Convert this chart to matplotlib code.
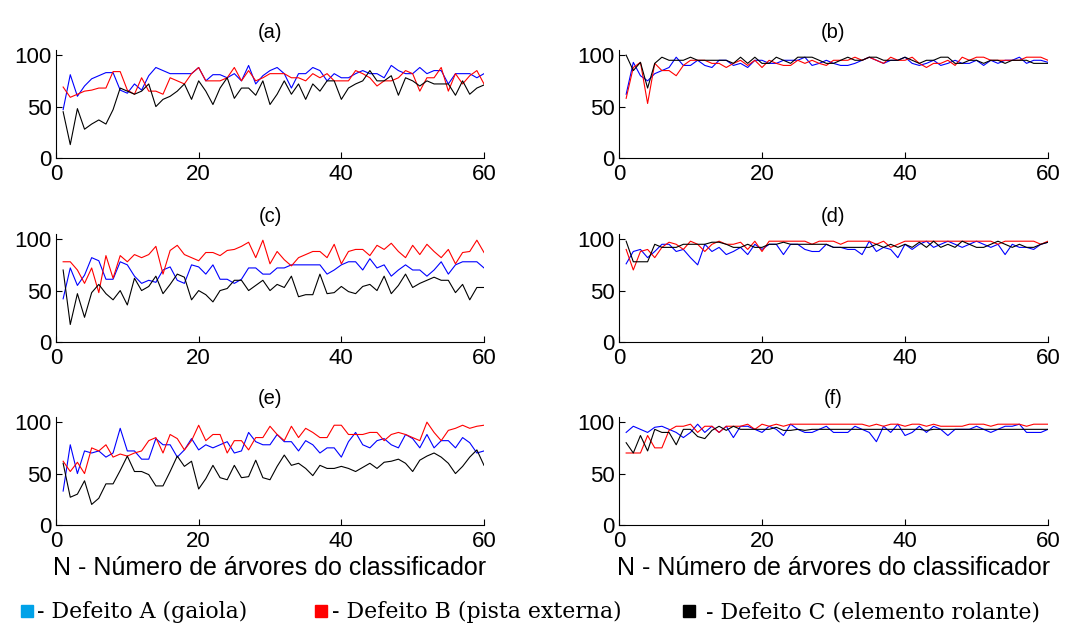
import numpy as np
import matplotlib
matplotlib.use('Agg')
import matplotlib.pyplot as plt
from matplotlib.patches import Rectangle

# numero de arvores do classificador
n_trees = np.arange(1, 61)

# (a)
a_blue = [47,81,60,70,77,80,83,83,66,63,72,66,80,88,85,82,82,82,82,88,75,81,81,78,82,75,90,72,80,85,
          88,82,68,82,82,88,85,75,82,78,78,82,85,82,82,78,90,85,82,82,88,82,85,85,72,82,82,82,78,82]
a_red = [69,59,62,65,66,68,68,84,84,66,62,78,65,65,62,78,75,72,82,88,75,75,75,78,88,75,85,75,78,82,
         82,82,78,78,75,82,78,82,75,75,75,85,82,78,70,75,75,78,85,82,65,78,78,88,65,82,72,80,85,72]
a_black = [45,13,48,28,33,37,33,47,68,65,62,65,72,50,57,60,65,72,57,75,65,52,68,78,58,68,68,61,75,52,
           62,75,62,72,57,72,65,75,75,57,68,72,75,85,75,75,80,61,78,75,70,75,72,72,72,61,75,62,68,71]

# (b)
b_blue = [62,93,80,75,82,85,88,98,90,90,95,90,88,95,95,90,92,88,95,95,92,92,95,95,95,98,90,92,95,92,
          90,90,92,95,98,95,92,95,95,98,92,90,92,95,90,92,95,92,92,95,90,95,92,95,95,98,92,95,95,93]
b_red = [58,88,93,53,92,85,85,80,90,95,95,95,92,92,88,92,95,90,95,88,95,92,90,90,95,92,95,92,90,95,
         95,95,98,95,98,95,92,98,95,95,98,92,88,92,92,95,90,98,95,98,98,95,95,95,95,95,98,98,98,95]
b_black = [100,85,93,68,92,98,95,95,95,98,95,95,95,95,95,92,98,92,98,92,92,98,95,92,98,98,98,95,92,92,
           95,98,95,95,98,98,95,95,95,98,95,92,95,95,98,98,92,92,95,95,92,95,95,92,95,95,95,92,92,92]

# (c)
c_blue = [42,72,55,65,82,79,61,61,78,75,64,57,60,58,70,73,60,57,75,73,66,75,61,61,57,61,72,72,66,66,
          72,72,75,75,75,75,75,66,70,75,78,78,70,81,72,75,64,70,75,70,70,64,70,78,66,75,78,78,78,72]
c_red = [78,78,70,57,72,48,84,62,84,78,85,82,85,93,66,89,94,85,82,79,87,87,84,89,90,93,97,82,99,76,
         88,80,74,82,85,88,88,82,95,76,88,90,90,84,94,90,96,88,82,94,85,95,88,82,90,76,87,88,99,87]
c_black = [70,17,47,24,48,56,47,41,50,36,62,50,54,64,47,56,66,63,41,50,46,39,50,52,60,60,50,55,60,50,
           56,53,64,44,46,46,66,47,48,54,49,47,54,56,50,64,47,55,66,53,57,60,63,60,60,48,56,41,53,53]

# (d)
d_blue = [76,88,90,82,88,95,95,88,90,82,75,95,88,92,85,88,92,85,95,90,95,95,85,95,95,90,88,88,95,92,
          92,90,90,85,98,88,92,90,82,95,90,95,98,92,95,98,95,92,95,98,95,92,95,85,95,92,92,90,95,97]
d_red = [90,70,88,90,82,92,97,95,90,98,95,88,95,98,95,95,97,90,98,88,98,98,98,98,98,98,95,98,98,98,
         95,98,98,98,98,95,98,92,95,98,98,98,98,98,98,98,98,98,98,98,98,98,95,98,98,98,98,98,95,98]
d_black = [98,78,78,78,95,92,92,92,95,95,95,95,97,97,95,92,92,95,92,92,95,95,97,95,95,95,95,95,95,92,
           92,92,92,92,92,95,92,95,92,95,92,97,92,98,92,95,92,98,95,92,92,95,98,95,92,95,92,92,95,97]

# (e)
e_blue = [33,78,50,72,70,72,66,70,94,72,72,64,64,84,78,78,66,73,84,73,78,75,78,81,70,72,90,81,78,78,
          88,81,81,72,82,78,70,75,75,66,81,90,78,75,82,84,78,75,88,84,75,88,75,82,82,75,85,80,70,72]
e_red = [62,52,61,50,75,72,78,66,69,67,70,72,82,85,70,88,84,73,82,97,82,88,88,70,82,82,73,85,85,96,
         88,82,96,85,94,90,85,85,97,97,88,88,88,90,90,82,88,90,88,85,82,100,90,82,92,94,97,94,96,97]
e_black = [60,27,30,43,20,26,40,40,53,67,52,52,49,38,38,52,67,57,62,35,45,58,46,44,58,46,47,63,46,44,
           57,68,58,60,55,48,58,55,55,57,55,52,56,60,55,61,62,64,60,52,63,67,70,66,60,50,57,66,73,58]

# (f)
f_blue = [90,96,93,90,95,96,93,90,85,90,98,90,96,90,96,85,96,96,93,90,96,93,87,98,93,90,90,93,96,90,
          90,90,96,93,90,81,96,90,98,87,90,96,90,96,93,87,93,93,93,96,93,90,93,96,96,98,90,90,90,93]
f_red = [70,70,70,87,75,75,92,96,96,98,90,96,96,90,96,96,96,98,93,98,96,98,96,98,98,98,98,98,98,98,
         98,98,98,98,96,98,96,98,98,96,98,98,96,98,96,96,96,96,98,98,98,96,98,98,98,98,96,98,98,98]
f_black = [80,70,87,72,93,90,90,78,93,93,86,84,92,96,92,96,93,93,93,93,93,95,92,92,93,92,93,93,93,93,
           93,93,93,93,93,93,93,93,93,93,93,93,92,93,93,93,93,93,93,93,93,93,93,93,93,93,93,93,93,93]

titles = ['(a)', '(b)', '(c)', '(d)', '(e)', '(f)']
panels = [(a_blue, a_red, a_black), (b_blue, b_red, b_black),
          (c_blue, c_red, c_black), (d_blue, d_red, d_black),
          (e_blue, e_red, e_black), (f_blue, f_red, f_black)]
legend_labels = ['- Defeito A (gaiola)', '- Defeito B (pista externa)', '- Defeito C (elemento rolante)']
xlabel = 'N - Número de árvores do classificador'

plt.rcParams['font.family'] = ['Liberation Sans', 'DejaVu Sans']

W, H = 1065, 623
fig = plt.figure(figsize=(W / 100, H / 100), dpi=100)

lefts = [56, 619]
widths = [428, 429]
bottoms = [158, 342, 525]   # linha (px) onde fica y=0
ax_h = 108

for i, (title, series) in enumerate(zip(titles, panels)):
    row, col = divmod(i, 2)
    ax = fig.add_axes([lefts[col] / W, 1 - bottoms[row] / H, widths[col] / W, ax_h / H])
    for vals, c in zip(series, ['#0000ff', '#ff0000', '#000000']):
        ax.plot(n_trees, vals, color=c, lw=0.8)
    ax.set_xlim(0, 60)
    ax.set_ylim(0, 105)
    ax.set_xticks([0, 20, 40, 60])
    ax.set_yticks([0, 50, 100])
    ax.spines['top'].set_visible(False)
    ax.spines['right'].set_visible(False)
    ax.tick_params(direction='in', length=4, labelsize=16)
    ax.tick_params(axis='y', pad=3)
    ax.tick_params(axis='x', pad=4)
    ax.set_title(title, fontsize=14.5, pad=9)
    if row == 2:
        ax.set_xlabel(xlabel, fontsize=18, labelpad=3)

# legenda em baixo
sq_x = [21, 315, 683]
txt_x = [37, 332, 706]
for sx, tx, lab, c in zip(sq_x, txt_x, legend_labels, ['#00a2e8', '#ff0000', '#000000']):
    fig.patches.append(Rectangle((sx / W, 1 - 617 / H), 12 / W, 12 / H, color=c,
                                 transform=fig.transFigure, figure=fig))
    fig.text(tx / W, 1 - 618 / H, lab, fontsize=15.8, va='baseline', ha='left',
             family='DejaVu Serif')

fig.savefig('out.png', dpi=100)
